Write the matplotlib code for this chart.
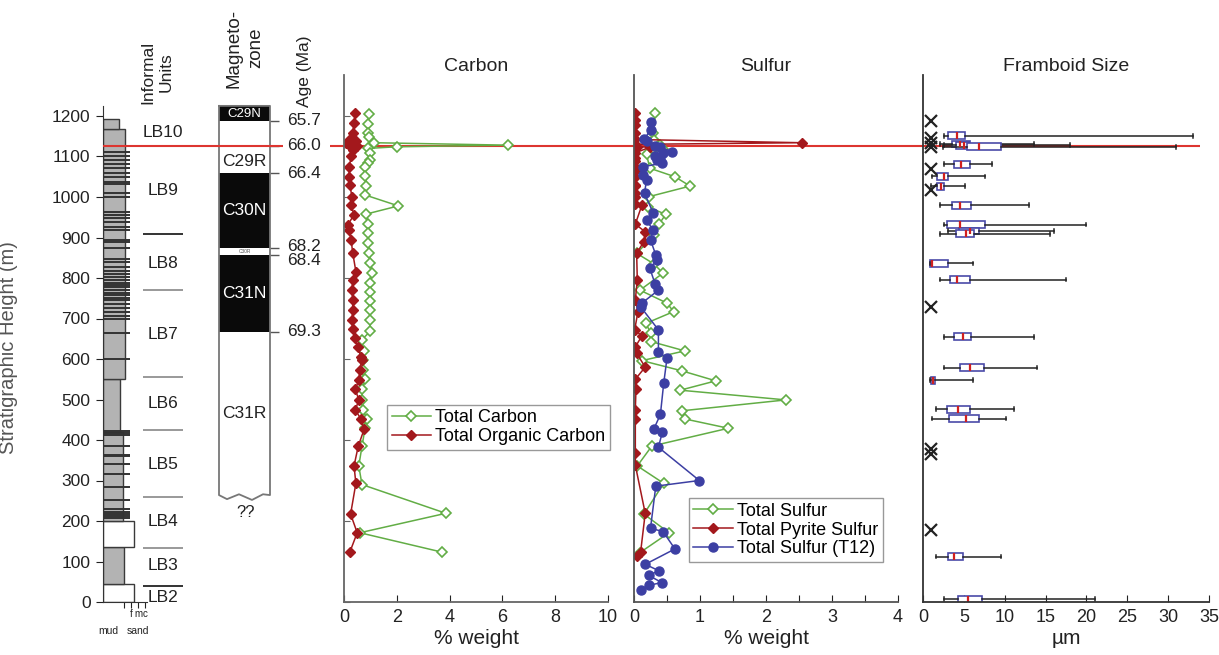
import matplotlib
matplotlib.use('Agg')
import matplotlib.pyplot as plt
import numpy as np

plt.rcParams['font.family'] = ['Liberation Sans', 'DejaVu Sans']

# ---------------- data ----------------
# Lithology column (bed base, bed top in m, grain-size index: 3=mud edge, 4=f, 5=m, 6=c sand)
LITH_base = [0, 45, 135, 200, 420, 550, 1168]
LITH_top = [45, 135, 200, 420, 550, 1168, 1192]
LITH_grain = [4.43, 3.0, 4.43, 2.86, 2.43, 3.14, 2.29]
THIN_h = [1112, 1101, 1091, 1081, 1071, 1060, 1050, 1038, 1032, 1011, 1001, 964, 956, 947,
          939, 927, 919, 894, 890, 873, 846, 840, 828, 818, 810, 802, 795, 787, 783, 777,
          770, 764, 758, 751, 746, 736, 725, 717, 706, 700, 663, 599, 423, 418, 412, 385,
          363, 360, 340, 315, 285, 252, 229, 223, 217, 212, 207]

UNIT_names = ['LB10', 'LB9', 'LB8', 'LB7', 'LB6', 'LB5', 'LB4', 'LB3', 'LB2']
UNIT_label_h = [1160, 1015, 837, 660, 490, 340, 198, 91, 12]
UNIT_bounds = [908, 770, 555, 425, 260, 133, 40]

MZ_names = ['C29N', 'C29R', 'C30N', 'C30R', 'C31N', 'C31R']
MZ_top = [1225, 1188, 1059, 874, 857, 667]
MZ_base = [1188, 1059, 874, 857, 667, 262]
MZ_normal = [True, False, True, False, True, False]
MZ_label_h = [1206, 1087, 966, 865, 762, 466]

AGE_h = [1188, 1126, 1059, 874, 857, 667]
AGE_label_h = [1188, 1126, 1059, 877, 844, 667]
AGE_labels = ['65.7', '66.0', '66.4', '68.2', '68.4', '69.3']

KPG_h = 1126

# Carbon (% weight)
TC_h = [1205, 1180, 1159, 1147, 1134, 1128, 1124, 1120, 1108, 1091, 1084, 1075, 1052, 1027,
        1005, 978, 958, 933, 911, 886, 862, 837, 812, 788, 765, 743, 721, 696, 669, 647, 620,
        597, 573, 550, 525, 499, 474, 453, 430, 384, 336, 290, 219, 171, 123]
TC_v = [0.96, 0.90, 0.92, 0.95, 1.15, 6.2, 2.0, 0.92, 0.97, 1.0, 0.92, 0.8, 0.8, 0.85, 0.8,
        2.06, 0.85, 0.9, 0.92, 0.92, 0.95, 1.0, 1.06, 1.0, 0.97, 1.0, 0.97, 0.97, 1.0, 0.67,
        0.75, 0.73, 0.72, 0.8, 0.7, 0.68, 0.72, 0.86, 0.8, 0.68, 0.56, 0.68, 3.86, 0.6, 3.72]
TOC_h = [1207, 1183, 1159, 1146, 1138, 1133, 1128, 1125, 1116, 1100, 1075, 1050, 1030, 1001,
         980, 956, 931, 919, 894, 862, 816, 795, 770, 746, 721, 696, 674, 651, 629, 606, 597,
         573, 548, 525, 499, 474, 453, 426, 385, 336, 293, 217, 171, 123]
TOC_v = [0.42, 0.38, 0.33, 0.27, 0.45, 0.08, 0.2, 0.5, 0.33, 0.27, 0.2, 0.2, 0.22, 0.3, 0.27,
         0.38, 0.14, 0.18, 0.27, 0.33, 0.45, 0.33, 0.3, 0.33, 0.33, 0.3, 0.33, 0.4, 0.54, 0.63,
         0.67, 0.6, 0.56, 0.43, 0.56, 0.43, 0.63, 0.76, 0.54, 0.38, 0.45, 0.25, 0.5, 0.22]

# Sulfur (% weight)
TS_h = [1207, 1159, 1140, 1128, 1118, 1105, 1071, 1050, 1027, 1001, 976, 957, 933, 905, 861,
        835, 812, 770, 738, 717, 688, 665, 643, 620, 596, 571, 546, 523, 499, 472, 452, 429,
        385, 336, 293, 217, 171, 122]
TS_v = [0.32, 0.29, 0.3, 0.39, 0.44, 0.19, 0.24, 0.62, 0.85, 0.23, 0.21, 0.48, 0.38, 0.3,
        0.04, 0.3, 0.44, 0.09, 0.5, 0.6, 0.18, 0.25, 0.26, 0.77, 0.12, 0.72, 1.24, 0.7, 2.3,
        0.72, 0.77, 1.43, 0.27, 0.05, 0.45, 0.15, 0.53, 0.09]
TPS_h = [1207, 1191, 1179, 1159, 1142, 1134, 1130, 1124, 1123, 1109, 1096, 1088, 1075, 1063,
         1050, 1030, 1026, 1009, 1001, 983, 980, 933, 914, 890, 861, 795, 746, 717, 672, 657,
         630, 614, 580, 550, 525, 474, 452, 367, 338, 219, 123, 114]
TPS_v = [0.02, 0.02, 0.02, 0.02, 0.02, 2.54, 0.02, 0.04, 0.24, 0.02, 0.02, 0.02, 0.02, 0.02,
         0.01, 0.01, 0.02, 0.02, 0.02, 0.02, 0.12, 0.02, 0.17, 0.15, 0.04, 0.05, 0.02, 0.06,
         0.01, 0.12, 0.02, 0.04, 0.17, 0.02, 0.03, 0.02, 0.02, 0.02, 0.02, 0.17, 0.1, 0.04]
T12_h = [1184, 1165, 1142, 1138, 1126, 1124, 1112, 1108, 1100, 1096, 1091, 1083, 1075, 1054,
         1043, 1009, 961, 942, 919, 894, 857, 844, 824, 785, 770, 738, 729, 672, 618, 602,
         540, 463, 427, 420, 382, 300, 286, 182, 174, 131, 93, 77, 66, 48, 41, 30]
T12_v = [0.25, 0.25, 0.15, 0.2, 0.32, 0.39, 0.57, 0.44, 0.32, 0.39, 0.35, 0.42, 0.14, 0.13,
         0.19, 0.16, 0.29, 0.19, 0.29, 0.25, 0.33, 0.35, 0.24, 0.32, 0.37, 0.12, 0.1, 0.37,
         0.37, 0.5, 0.45, 0.4, 0.3, 0.43, 0.37, 0.99, 0.33, 0.25, 0.44, 0.62, 0.17, 0.38,
         0.22, 0.42, 0.22, 0.1]

# Framboid size (um) box statistics
FR_h = [1151, 1131, 1128, 1124, 1081, 1051, 1027, 980, 932, 916, 909, 836, 796, 655, 579,
        548, 476, 453, 112, 7]
FR_min = [2.6, 2.1, 2.6, 2.5, 2.6, 1.06, 1.0, 2.1, 2.6, 3.1, 2.1, 0.8, 2.1, 2.6, 2.6, 0.9,
          1.6, 1.06, 1.6, 2.6]
FR_q1 = [3.1, 3.5, 4.0, 5.4, 3.8, 1.75, 1.7, 3.5, 2.9, 4.45, 4.0, 0.9, 3.3, 3.8, 4.5, 0.95,
         2.9, 3.2, 3.0, 4.3]
FR_med = [4.2, 4.5, 5.0, 6.9, 4.6, 2.6, 2.2, 4.5, 4.5, 5.7, 5.3, 1.1, 4.1, 4.9, 5.8, 1.2,
          4.3, 5.3, 3.8, 5.5]
FR_q3 = [5.1, 5.8, 5.6, 9.6, 5.75, 3.1, 2.6, 5.9, 7.6, 6.8, 6.2, 3.0, 5.75, 5.9, 7.5, 1.5,
         5.7, 6.8, 4.9, 7.2]
FR_max = [33.0, 13.6, 18.0, 31.0, 8.5, 7.6, 5.1, 13.0, 20.0, 16.0, 15.5, 6.1, 17.5, 13.6,
          14.0, 6.1, 11.1, 10.1, 9.55, 21.0]
FRX_h = [1188, 1145, 1134, 1123, 1068, 1017, 729, 377, 365, 178]
FRX_v = [1.0, 1.0, 1.0, 1.0, 1.0, 1.0, 1.0, 1.0, 1.0, 1.0]

# ---------------- layout ----------------
W, H = 1219, 655
fig = plt.figure(figsize=(W / 100, H / 100), dpi=100)
PX_PER_M = 0.405
Y_BOT, Y_TOP = 602, 75
YMAX = (Y_BOT - Y_TOP) / PX_PER_M


def rect(x0, w):
    return [x0 / W, (H - Y_BOT) / H, w / W, (Y_BOT - Y_TOP) / H]


GREEN = '#62ad45'
DRED = '#a3181c'
BLUE = '#3c3fa3'
KRED = '#dd3530'

# red K-Pg overlay (behind panels)
axR = fig.add_axes(rect(330, 870))
axR.set_xlim(0, 1)
axR.set_ylim(0, YMAX)
axR.axis('off')
axR.axhline(KPG_h, color=KRED, lw=1.5)
axR.set_zorder(0)

# lithology column
axL = fig.add_axes(rect(103, 45.5))
axL.set_xlim(0, 6.5)
axL.set_ylim(0, YMAX)
axL.patch.set_alpha(0)
lcolors = ['white' if g > 4 else '#b3b3b3' for g in LITH_grain]
axL.barh(LITH_base, LITH_grain, height=np.array(LITH_top) - np.array(LITH_base), left=0,
         align='edge', color=lcolors, edgecolor='#3a3a3a', lw=1.0, zorder=2)
axL.hlines(THIN_h, 0, 3.9, color='#333333', lw=1.4, zorder=3)
for s in ['top', 'right']:
    axL.spines[s].set_visible(False)
axL.spines['left'].set_bounds(0, 1225)
axL.spines['bottom'].set_bounds(0, 6.3)
axL.spines['left'].set_color('#333')
axL.spines['bottom'].set_color('#333')
axL.set_yticks(np.arange(0, 1201, 100))
axL.tick_params(axis='y', labelsize=12.5, length=5, pad=4, colors='#222')
axL.set_xticks([3, 4, 5, 6])
axL.set_xticklabels(['', 'f', 'm', 'c'])
axL.tick_params(axis='x', labelsize=7, length=4, pad=1, colors='#222')
axL.text(0.8, -0.055, 'mud', transform=axL.get_xaxis_transform(), ha='center', va='center',
         fontsize=7.5, color='#222')
axL.text(5.0, -0.055, 'sand', transform=axL.get_xaxis_transform(), ha='center', va='center',
         fontsize=7.5, color='#222')
axL.set_ylabel('Stratigraphic Height (m)', fontsize=14.5, color='#555')
axL.yaxis.set_label_coords((18 - 103) / 45.5, (602 - 348) / 527)
axL.set_zorder(1)

# units + magnetozone annotation axes (pixel-like x)
axU = fig.add_axes(rect(0, 340))
axU.set_xlim(0, 340)
axU.set_ylim(0, YMAX)
axU.axis('off')
axU.set_zorder(2)
axU.hlines(KPG_h, 103, 283, color=KRED, lw=1.5, zorder=5)
for name, h in zip(UNIT_names, UNIT_label_h):
    axU.text(163, h, name, ha='center', va='center', fontsize=12.5, color='#222')
bcols = ['#111', '#888', '#888', '#888', '#888', '#888', '#111']
axU.hlines(UNIT_bounds, 143, 183, colors=bcols, lw=1.2)

for nm, t, b, nrm, lh in zip(MZ_names, MZ_top, MZ_base, MZ_normal, MZ_label_h):
    if nrm:
        axU.barh(b, 51, height=t - b, left=219, align='edge', color='#0a0a0a', zorder=2)
    if nm == 'C30R':
        axU.text(244.5, lh, nm, ha='center', va='center', fontsize=3.5, color='#555', zorder=4)
    elif nm == 'C29N':
        axU.text(244.5, lh, nm, ha='center', va='center', fontsize=9.5, color='white', zorder=4)
    else:
        axU.text(244.5, lh, nm, ha='center', va='center', fontsize=12.5,
                 color='white' if nrm else '#222', zorder=4)
ZZ_x = [219, 227, 239, 252, 263, 270]
ZZ_h = [264, 254, 266, 252, 266, 264]
outline_x = [219] + ZZ_x + [270, 219]
outline_y = [1225] + ZZ_h + [1225, 1225]
axU.plot(outline_x, outline_y, color='#777', lw=1.3, zorder=3)
axU.text(246, 222, '??', ha='center', va='center', fontsize=12, color='#222')
axU.hlines(AGE_h, 270, 279, color='#555', lw=1.0)
for lab, lh in zip(AGE_labels, AGE_label_h):
    axU.text(287, lh, lab, ha='left', va='center', fontsize=12.5, color='#222')

axU.text(157, (602 - 72) / PX_PER_M, 'Informal\nUnits', rotation=90, ha='center', va='center',
         multialignment='center', fontsize=12.5, linespacing=1.3, color='#222')
axU.text(245, (602 - 48) / PX_PER_M, 'Magneto-\nzone', rotation=90, ha='center', va='center',
         multialignment='center', fontsize=13.5, linespacing=1.4, color='#222')
axU.text(305, (602 - 71) / PX_PER_M, 'Age (Ma)', rotation=90, ha='center', va='center',
         fontsize=12.5, color='#222')


def style_panel(ax, xmax, title, xlabel, spine_col):
    ax.set_xlim(0, xmax)
    ax.set_ylim(0, YMAX)
    ax.patch.set_alpha(0)
    for s in ['top', 'right']:
        ax.spines[s].set_visible(False)
    for s in ['left', 'bottom']:
        ax.spines[s].set_color(spine_col)
        ax.spines[s].set_linewidth(1.3)
    ax.set_title(title, fontsize=14, pad=0.5, color='#222')
    ax.set_xlabel(xlabel, fontsize=15, labelpad=2, color='#222')
    ax.tick_params(axis='x', direction='in', length=5, labelsize=13, pad=5, colors='#222')
    ax.set_zorder(3)


# Carbon panel
axC = fig.add_axes(rect(344, 264))
axC.plot(TC_v, TC_h, '-D', color=GREEN, mfc='white', mec=GREEN, ms=5.5, lw=1.1, mew=1.2,
         label='Total Carbon')
axC.plot(TOC_v, TOC_h, '-D', color=DRED, mfc=DRED, mec=DRED, ms=5.5, lw=1.1,
         label='Total Organic Carbon')
style_panel(axC, 10, 'Carbon', '% weight', '#666')
axC.set_xticks(np.arange(0, 11, 2))
axC.set_yticks(np.arange(0, 1201, 200))
axC.tick_params(axis='y', direction='in', length=4, labelleft=False, colors='#666')
axC.legend(loc='upper left', bbox_to_anchor=(0.163, 0.374), borderaxespad=0, fontsize=13,
           frameon=True, fancybox=False, edgecolor='#999', framealpha=1, handlelength=2.2,
           handletextpad=0.2, borderpad=0.25, labelspacing=0.1)

# Sulfur panel
axS = fig.add_axes(rect(634, 264))
axS.plot(TS_v, TS_h, '-D', color=GREEN, mfc='white', mec=GREEN, ms=5.5, lw=1.1, mew=1.2,
         label='Total Sulfur')
axS.plot(TPS_v, TPS_h, '-D', color=DRED, mfc=DRED, mec=DRED, ms=5.5, lw=1.1,
         label='Total Pyrite Sulfur')
axS.plot(T12_v, T12_h, '-o', color=BLUE, mfc=BLUE, mec=BLUE, ms=6.5, lw=1.1,
         label='Total Sulfur (T12)')
style_panel(axS, 4, 'Sulfur', '% weight', '#555')
axS.set_xticks(np.arange(0, 4.01, 0.5))
axS.set_xticklabels(['0', '', '1', '', '2', '', '3', '', '4'])
axS.set_yticks([])
axS.legend(loc='upper left', bbox_to_anchor=(0.208, 0.197), borderaxespad=0, fontsize=13,
           frameon=True, fancybox=False, edgecolor='#999', framealpha=1, handlelength=2.2,
           handletextpad=0.2, borderpad=0.25, labelspacing=0.1)

# Framboid panel
axF = fig.add_axes(rect(923, 286))
stats = [dict(med=m, q1=a, q3=b, whislo=lo, whishi=hi, fliers=[])
         for m, a, b, lo, hi in zip(FR_med, FR_q1, FR_q3, FR_min, FR_max)]
bx_kw = dict(positions=FR_h, widths=17, showfliers=False, patch_artist=True,
             manage_ticks=False,
             boxprops=dict(facecolor='white', edgecolor='#4a4aa8', lw=1.2),
             medianprops=dict(color='#d02020', lw=1.6),
             whiskerprops=dict(color='#222', lw=1.1),
             capprops=dict(color='#222', lw=1.1))
try:
    axF.bxp(stats, orientation='horizontal', capwidths=9, **bx_kw)
except TypeError:
    axF.bxp(stats, vert=False, **bx_kw)
axF.plot(FRX_v, FRX_h, 'x', color='#222', ms=9, mew=1.6, ls='none')
style_panel(axF, 35, 'Framboid Size', 'µm', '#333')
axF.set_xticks(np.arange(0, 36, 5))
axF.set_yticks([])

fig.savefig('out.png', dpi=100)
